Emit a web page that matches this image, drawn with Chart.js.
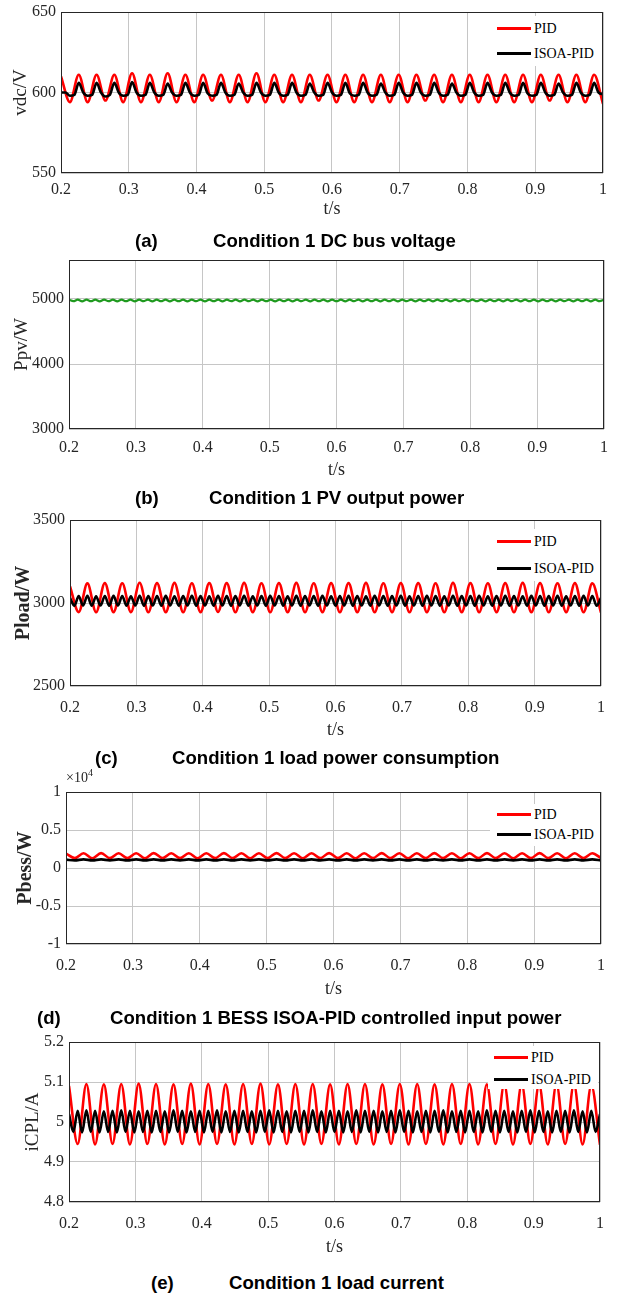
<!DOCTYPE html>
<html><head><meta charset="utf-8">
<script src="https://cdn.jsdelivr.net/npm/chart.js@4.4.0/dist/chart.umd.min.js"></script>
<style>
html,body{margin:0;padding:0;background:#fff;}
body{width:617px;height:1296px;position:relative;overflow:hidden;}
canvas{position:absolute;left:0;}
.cap{position:absolute;font-family:"Liberation Sans",Arial,sans-serif;font-weight:bold;font-size:18.6px;color:#000;white-space:nowrap;line-height:20px;}
.leg{position:absolute;background:#fff;}
.row{position:absolute;white-space:nowrap;font-family:"Liberation Serif","Times New Roman",serif;font-size:14px;color:#000;line-height:16px;height:16px;}
.ln{position:absolute;left:0;top:6px;width:34px;height:3px;}
.tx{position:absolute;left:37px;top:0;}
.exp{position:absolute;font-family:"Liberation Serif","Times New Roman",serif;font-size:14px;color:#262626;white-space:nowrap;}
.exp sup{font-size:10px;}
</style></head><body>
<script>
// ---- time grids (s) ----
const tHalf = [0.2000,0.2131,0.2262,0.2393,0.2525,0.2656,0.2787,0.2918,0.3049,0.3180,
 0.3311,0.3443,0.3574,0.3705,0.3836,0.3967,0.4098,0.4230,0.4361,0.4492,
 0.4623,0.4754,0.4885,0.5016,0.5148,0.5279,0.5410,0.5541,0.5672,0.5803,
 0.5934,0.6066,0.6197,0.6328,0.6459,0.6590,0.6721,0.6852,0.6984,0.7115,
 0.7246,0.7377,0.7508,0.7639,0.7770,0.7902,0.8033,0.8164,0.8295,0.8426,
 0.8557,0.8689,0.8820,0.8951,0.9082,0.9213,0.9344,0.9475,0.9607,0.9738,
 0.9869,1.0000];
const tQuarter = [0.2000,0.2066,0.2131,0.2197,0.2262,0.2328,0.2393,0.2459,0.2525,0.2590,
 0.2656,0.2721,0.2787,0.2852,0.2918,0.2984,0.3049,0.3115,0.3180,0.3246,
 0.3311,0.3377,0.3443,0.3508,0.3574,0.3639,0.3705,0.3770,0.3836,0.3902,
 0.3967,0.4033,0.4098,0.4164,0.4230,0.4295,0.4361,0.4426,0.4492,0.4557,
 0.4623,0.4689,0.4754,0.4820,0.4885,0.4951,0.5016,0.5082,0.5148,0.5213,
 0.5279,0.5344,0.5410,0.5475,0.5541,0.5607,0.5672,0.5738,0.5803,0.5869,
 0.5934,0.6000,0.6066,0.6131,0.6197,0.6262,0.6328,0.6393,0.6459,0.6525,
 0.6590,0.6656,0.6721,0.6787,0.6852,0.6918,0.6984,0.7049,0.7115,0.7180,
 0.7246,0.7311,0.7377,0.7443,0.7508,0.7574,0.7639,0.7705,0.7770,0.7836,
 0.7902,0.7967,0.8033,0.8098,0.8164,0.8230,0.8295,0.8361,0.8426,0.8492,
 0.8557,0.8623,0.8689,0.8754,0.8820,0.8885,0.8951,0.9016,0.9082,0.9148,
 0.9213,0.9279,0.9344,0.9410,0.9475,0.9541,0.9607,0.9672,0.9738,0.9803,
 0.9869,0.9934,1.0000];

// ---- tick labels ----
const xTickValues = [0.2,0.3,0.4,0.5,0.6,0.7,0.8,0.9,1];

// ---- (a) DC bus voltage, V ----
const vdcPID = [610,594,611,594,611,595,611,594,612,594,
 611,594,612,594,611,594,611,595,611,594,
 611,594,612,594,611,594,611,594,611,595,
 611,594,611,594,611,594,611,594,611,594,
 611,595,611,594,611,594,611,594,611,594,
 611,594,611,594,611,595,611,594,611,594,
 611,593];
const vdcISOA = [600,600,598,598.5, 606,600,598,598.5, 606,600,597.5,598.5,
 606,600,598,598.5, 606.5,600,598,598.5, 606,600,598,598.5,
 605.5,600,598,598.5, 606,600,598,598.5, 606,599.5,598,598.5,
 606,600,598,598.5, 605.5,600,598,598.5, 606,600,598,598.5,
 606,600,598,598.5, 606,600,598,598.5, 605.5,600,598,598.5,
 606,600,598,598.5, 606,599.5,598,598.5, 606,600,598,598.5,
 605.5,600,598,598.5, 606,600,598,598.5, 606,600,598,598.5,
 606,600,598,598.5, 605.5,600,598,598.5, 606,600,598,598.5,
 606,600,598,598.5, 606,600,598,598.5, 606,599.5,598,598.5,
 606,600,598,598.5, 605.5,600,598,598.5, 606,600,598,598.5,
 606,600,599];

// ---- (b) PV output power, W ----
const ppv = [4988,4966,4990,4965,4990,4967,4990,4965,4991,4966,
 4990,4965,4989,4966,4990,4965,4990,4967,4991,4965,
 4990,4966,4990,4965,4989,4966,4990,4965,4990,4966,
 4991,4965,4990,4966,4990,4965,4989,4967,4990,4965,
 4990,4966,4991,4965,4990,4966,4990,4965,4989,4966,
 4990,4965,4990,4967,4991,4965,4990,4966,4990,4965,
 4989,4966,4990,4965,4990,4966,4991,4965,4990,4967,
 4990,4965,4989,4966,4990,4965,4990,4966,4991,4965,
 4990,4966,4990,4965,4989,4967,4990,4965,4990,4966,
 4991,4965,4990,4966,4990,4965,4989,4966,4990,4965,
 4990,4967,4991,4965,4990,4966,4990,4965,4989,4966,
 4990,4965,4990,4966,4991,4965,4990,4967,4990,4965,
 4990,4966,4989];

// ---- (c) load power, W ----
const ploadPID = [3100,2945,3118,2944,3120,2945,3119,2945,3122,2944,
 3120,2945,3121,2944,3119,2945,3120,2946,3120,2944,
 3121,2945,3119,2944,3120,2945,3121,2944,3119,2945,
 3120,2944,3120,2945,3121,2944,3119,2945,3120,2944,
 3120,2945,3119,2944,3121,2945,3120,2944,3119,2945,
 3120,2944,3121,2945,3120,2944,3119,2945,3120,2944,
 3118,2942];
const ploadISOA = [3030,2984,3042,2985,3043,2984,3041,2985,3042,2984,
 3043,2985,3042,2984,3041,2985,3043,2984,3042,2985,
 3042,2984,3043,2985,3041,2984,3042,2985,3043,2984,
 3042,2985,3041,2984,3043,2985,3042,2984,3042,2985,
 3043,2984,3041,2985,3042,2984,3043,2985,3042,2984,
 3041,2985,3043,2984,3042,2985,3042,2984,3043,2985,
 3041,2984,3042,2985,3043,2984,3042,2985,3041,2984,
 3043,2985,3042,2984,3042,2985,3043,2984,3041,2985,
 3042,2984,3043,2985,3042,2984,3041,2985,3043,2984,
 3042,2985,3042,2984,3043,2985,3041,2984,3042,2985,
 3043,2984,3042,2985,3041,2984,3043,2985,3042,2984,
 3042,2985,3043,2984,3041,2985,3042,2984,3043,2985,
 3042,2984,3030];

// ---- (d) BESS input power, W ----
const pbessPID = [1900,1300,1950,1290,1960,1300,1950,1300,1950,1290,
 1960,1300,1950,1300,1950,1290,1950,1300,1960,1300,
 1950,1290,1950,1300,1960,1300,1950,1290,1950,1300,
 1960,1300,1950,1290,1950,1300,1960,1300,1950,1290,
 1950,1300,1960,1300,1950,1290,1950,1300,1960,1300,
 1950,1290,1950,1300,1960,1300,1950,1290,1950,1300,
 1950,1300];
const pbessISOA = [1100,1000,1130,1000,1130,1005,1130,1000,1135,1000,
 1130,1000,1130,1005,1130,1000,1130,1000,1135,1000,
 1130,1005,1130,1000,1130,1000,1130,1000,1135,1005,
 1130,1000,1130,1000,1130,1005,1130,1000,1135,1000,
 1130,1000,1130,1005,1130,1000,1130,1000,1135,1000,
 1130,1005,1130,1000,1130,1000,1130,1000,1135,1005,
 1130,1000];

// ---- (e) load current, A ----
const icplPID = [5.090,4.945,5.095,4.944,5.094,4.945,5.095,4.944,5.096,4.945,
 5.095,4.944,5.094,4.945,5.096,4.944,5.095,4.945,5.094,4.944,
 5.095,4.945,5.096,4.944,5.094,4.945,5.095,4.944,5.095,4.945,
 5.094,4.944,5.095,4.945,5.095,4.944,5.094,4.945,5.095,4.944,
 5.095,4.945,5.094,4.944,5.095,4.945,5.095,4.944,5.094,4.945,
 5.095,4.944,5.095,4.945,5.094,4.944,5.095,4.945,5.095,4.944,
 5.092,4.943];
const icplISOA = [5.020,4.975,5.028,4.974,5.029,4.975,5.028,4.974,5.027,4.975,
 5.028,4.974,5.029,4.975,5.028,4.974,5.027,4.975,5.028,4.974,
 5.028,4.975,5.027,4.974,5.029,4.975,5.028,4.974,5.027,4.975,
 5.028,4.974,5.028,4.975,5.029,4.974,5.027,4.975,5.028,4.974,
 5.028,4.975,5.027,4.974,5.028,4.975,5.029,4.974,5.028,4.975,
 5.027,4.974,5.028,4.975,5.028,4.974,5.029,4.975,5.027,4.974,
 5.028,4.975,5.028,4.974,5.027,4.975,5.029,4.974,5.028,4.975,
 5.028,4.974,5.027,4.975,5.028,4.974,5.029,4.975,5.028,4.974,
 5.027,4.975,5.028,4.974,5.028,4.975,5.029,4.974,5.027,4.975,
 5.028,4.974,5.028,4.975,5.027,4.974,5.029,4.975,5.028,4.974,
 5.028,4.975,5.027,4.974,5.028,4.975,5.029,4.974,5.028,4.975,
 5.027,4.974,5.028,4.975,5.028,4.974,5.029,4.975,5.027,4.974,
 5.028,4.975,5.020];

// ---- y tick values per panel ----
const yTicksA = [550,600,650];
const yTicksB = [3000,4000,5000];
const yTicksC = [2500,3000,3500];
const yTicksD = [-10000,-5000,0,5000,10000];
const yTicksE = [4.8,4.9,5.0,5.1,5.2];

const RED = '#ff0000', BLACK = '#000000', GREEN = '#1f9a1f';
const SERIF = "'Liberation Serif','Times New Roman',serif";
Chart.defaults.font.family = SERIF;
Chart.defaults.color = '#262626';

const frame = {
  id: 'frame',
  afterDraw(chart) {
    const {ctx, chartArea: a} = chart;
    ctx.save();
    ctx.strokeStyle = '#262626';
    ctx.lineWidth = 1;
    ctx.strokeRect(Math.round(a.left) + 0.5, Math.round(a.top) + 0.5,
      Math.round(a.right - a.left) - 1, Math.round(a.bottom - a.top) - 1);
    ctx.restore();
  }
};

function pairs(t, v) { return t.map((x, i) => ({x: x, y: v[i]})); }
function fmt(v) { return String(parseFloat(Number(v).toFixed(4))); }

function panel(p) {
  const padTop = 16, axisH = 62;
  const cTop = p.top - padTop;
  const h = p.bottom - cTop + axisH;
  const cv = document.createElement('canvas');
  cv.width = 617; cv.height = h;
  cv.style.top = cTop + 'px';
  cv.style.width = '617px'; cv.style.height = h + 'px';
  document.body.appendChild(cv);
  const yt = p.yTicks;
  const ttlSize = 18;
  const ttlPad = axisH - ttlSize * 1.2 / 2 - p.ttlOff;
  new Chart(cv, {
    type: 'line',
    data: { datasets: p.series.map(s => ({
      label: s.label, data: pairs(s.t, s.v), borderColor: s.color,
      borderWidth: s.w || 2.6, pointRadius: 0, fill: false,
      cubicInterpolationMode: 'monotone', borderJoinStyle: 'round'
    })) },
    options: {
      responsive: false, animation: false, devicePixelRatio: 1,
      layout: { padding: { top: padTop, right: 617 - p.right, left: 0, bottom: 0 } },
      plugins: { legend: { display: false }, tooltip: { enabled: false } },
      scales: {
        x: {
          type: 'linear', min: 0.2, max: 1,
          afterBuildTicks: s => { s.ticks = xTickValues.map(v => ({value: v})); },
          ticks: { font: { size: 16 }, padding: p.lblPad, maxRotation: 0, callback: v => fmt(v) },
          grid: { color: '#c6c6c6', lineWidth: 1, drawTicks: false },
          border: { display: false },
          title: { display: true, text: 't/s', font: { size: ttlSize }, color: '#262626', padding: { top: 0, bottom: ttlPad } },
          afterFit: s => { s.height = axisH; }
        },
        y: {
          min: p.yMin, max: p.yMax,
          afterBuildTicks: s => { s.ticks = yt.map(v => ({value: v})); },
          ticks: { font: { size: 16 }, padding: 5, callback: p.yFmt || (v => fmt(v)) },
          grid: { color: '#c6c6c6', lineWidth: 1, drawTicks: false },
          border: { display: false },
          title: { display: true, text: p.yTitle, font: { size: p.ySize, weight: p.yBold ? 'bold' : 'normal' }, color: '#262626', padding: { top: p.titlePad, bottom: 0 } },
          afterFit: s => { s.width = p.left; }
        }
      }
    },
    plugins: [frame]
  });
}

function legend(box, rows) {
  const d = document.createElement('div');
  d.className = 'leg';
  d.style.left = box.x + 'px'; d.style.top = box.y + 'px';
  d.style.width = box.w + 'px'; d.style.height = box.h + 'px';
  rows.forEach(r => {
    const row = document.createElement('div');
    row.className = 'row';
    row.style.left = (r.x - box.x) + 'px';
    row.style.top = (r.y - box.y - 8) + 'px';
    row.innerHTML = '<div class="ln" style="background:' + r.color + '"></div><div class="tx">' + r.label + '</div>';
    d.appendChild(row);
  });
  document.body.appendChild(d);
}

function caption(tag, text, y, tagX, textX) {
  const a = document.createElement('div');
  a.className = 'cap'; a.textContent = tag;
  a.style.left = tagX + 'px'; a.style.top = (y - 10) + 'px';
  document.body.appendChild(a);
  const b = document.createElement('div');
  b.className = 'cap'; b.textContent = text;
  b.style.left = textX + 'px'; b.style.top = (y - 10) + 'px';
  document.body.appendChild(b);
}

// (a)
panel({ top: 12, bottom: 173, left: 61, right: 603, yMin: 550, yMax: 650, yTicks: yTicksA,
  yTitle: 'vdc/V', ySize: 19, titlePad: 10, lblPad: 7, ttlOff: 36,
  series: [ {label: 'ISOA-PID', t: tQuarter, v: vdcISOA, color: BLACK},
            {label: 'PID', t: tHalf, v: vdcPID, color: RED} ] });
// (b)
panel({ top: 260, bottom: 429, left: 69, right: 604, yMin: 3000, yMax: 5600, yTicks: yTicksB,
  yTitle: 'Ppv/W', ySize: 19, titlePad: 11, lblPad: 9, ttlOff: 41,
  series: [ {label: 'Ppv', t: tQuarter, v: ppv, color: GREEN, w: 2.2} ] });
// (c)
panel({ top: 520, bottom: 686, left: 70, right: 603, yMin: 2500, yMax: 3500, yTicks: yTicksC,
  yTitle: 'Pload/W', ySize: 20, titlePad: 12, yBold: true, lblPad: 12, ttlOff: 44,
  series: [ {label: 'ISOA-PID', t: tQuarter, v: ploadISOA, color: BLACK},
            {label: 'PID', t: tHalf, v: ploadPID, color: RED} ] });
// (d)
panel({ top: 792, bottom: 944, left: 66, right: 603, yMin: -10000, yMax: 10000, yTicks: yTicksD,
  yTitle: 'Pbess/W', ySize: 20, titlePad: 14, yBold: true, yFmt: v => fmt(v / 10000), lblPad: 12, ttlOff: 45,
  series: [ {label: 'ISOA-PID', t: tHalf, v: pbessISOA, color: BLACK},
            {label: 'PID', t: tHalf, v: pbessPID, color: RED} ] });
// (e)
panel({ top: 1042, bottom: 1202, left: 69, right: 600, yMin: 4.8, yMax: 5.2, yTicks: yTicksE,
  yTitle: 'iCPL/A', ySize: 19, titlePad: 22, lblPad: 12, ttlOff: 45,
  series: [ {label: 'ISOA-PID', t: tQuarter, v: icplISOA, color: BLACK},
            {label: 'PID', t: tHalf, v: icplPID, color: RED} ] });

// legends
legend({x: 490, y: 16, w: 110, h: 50}, [
  {x: 497, y: 29, color: RED, label: 'PID'}, {x: 497, y: 54, color: BLACK, label: 'ISOA-PID'}]);
legend({x: 490, y: 529, w: 110, h: 52}, [
  {x: 497, y: 542, color: RED, label: 'PID'}, {x: 497, y: 569, color: BLACK, label: 'ISOA-PID'}]);
legend({x: 490, y: 804, w: 110, h: 42}, [
  {x: 497, y: 815, color: RED, label: 'PID'}, {x: 497, y: 835, color: BLACK, label: 'ISOA-PID'}]);
legend({x: 488, y: 1046, w: 110, h: 43}, [
  {x: 494, y: 1058, color: RED, label: 'PID'}, {x: 494, y: 1080, color: BLACK, label: 'ISOA-PID'}]);

// exponent label of (d)
const ex = document.createElement('div');
ex.className = 'exp'; ex.innerHTML = '&times;10<sup>4</sup>';
ex.style.left = '66px'; ex.style.top = '767px';
document.body.appendChild(ex);

// captions
caption('(a)', 'Condition 1 DC bus voltage', 241, 135, 213);
caption('(b)', 'Condition 1 PV output power', 498, 135, 209);
caption('(c)', 'Condition 1 load power consumption', 758, 95, 172);
caption('(d)', 'Condition 1 BESS ISOA-PID controlled input power', 1018, 37, 110);
caption('(e)', 'Condition 1 load current', 1283, 151, 229);
</script>
</body></html>
